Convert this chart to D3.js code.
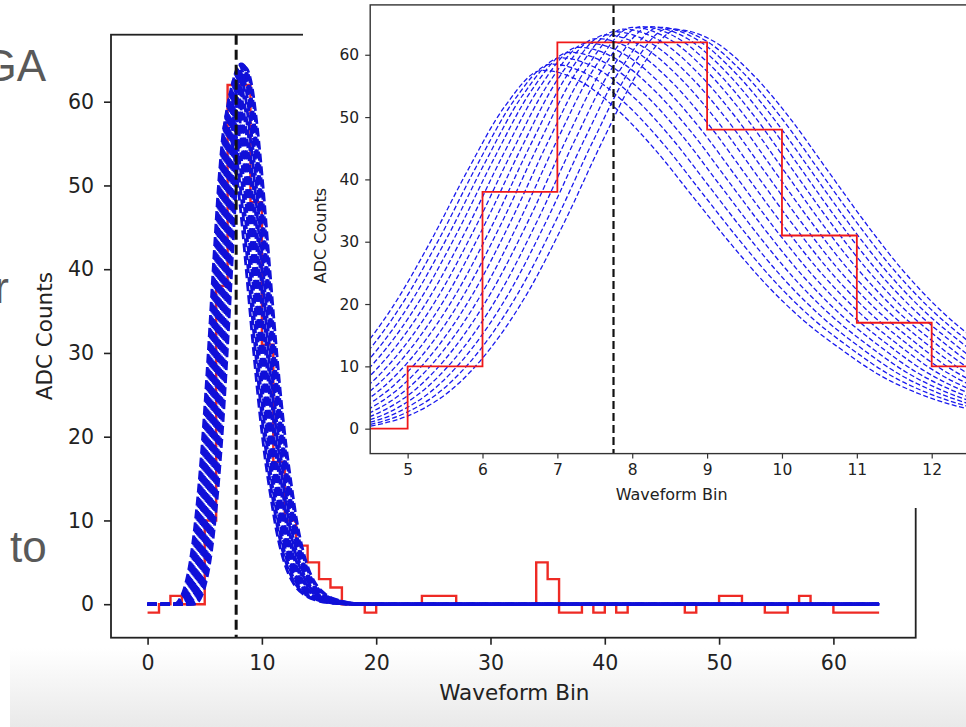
<!DOCTYPE html>
<html>
<head>
<meta charset="utf-8">
<script src="https://cdn.jsdelivr.net/npm/d3@7"></script>
<style>
  body { margin: 0; background: #fff; }
  text { font-family: "DejaVu Sans", sans-serif; }
</style>
</head>
<body>
<div id="chart"></div>
<script>
// Data
// red: measured waveform, one value per bin (0..64)
const adcCounts = [-1, 0, 1, 0, 0, 10, 38, 62, 62, 48,
                   31, 17, 10, 7, 5, 3, 2, 0, 0, -1,
                   0, 0, 0, 0, 1, 1, 1, 0, 0, 0,
                   0, 0, 0, 0, 5, 3, -1, -1, 0, -1,
                   0, -1, 0, 0, 0, 0, 0, -1, 0, 0,
                   1, 1, 0, 0, -1, -1, 0, 1, 0, 0,
                   -1, -1, -1, -1, -1]

// blue: pulse template (offset from peak in bins, fraction of peak)
const templateOffset = [-4.5, -4, -3.5, -3, -2.5, -2, -1.5, -1, -0.5, 0, 0.5, 1, 1.5, 2, 2.5, 3, 3.5, 4, 4.5, 5, 5.5, 6, 7, 8, 9, 10, 11]
const templateShape  = [0, 0.01, 0.04, 0.10, 0.20, 0.34, 0.52, 0.72, 0.90, 1, 0.97, 0.89, 0.78, 0.65, 0.52, 0.40, 0.30, 0.22, 0.15, 0.10, 0.065, 0.042, 0.018, 0.008, 0.003, 0.001, 0]

// the family of fitted pulses: peak position and height of each
const fitPeak = [6.8, 6.92, 7.04, 7.16, 7.28, 7.4, 7.52, 7.64, 7.76, 7.88, 8.0, 8.12, 8.24, 8.36, 8.48, 8.6]
const fitAmp  = [57.5, 58.5, 59.5, 60.4, 61.2, 61.9, 62.6, 63.2, 63.7, 64.1, 64.4, 64.5, 64.5, 64.4, 64.2, 64.0]

const fitTime = 7.75
const waveformRange = [0, 64]

const mainXTicks = [0, 10, 20, 30, 40, 50, 60]
const mainYTicks = [0, 10, 20, 30, 40, 50, 60]
const insetXTicks = [5, 6, 7, 8, 9, 10, 11, 12]
const insetYTicks = [0, 10, 20, 30, 40, 50, 60]

// build curve point lists
const redPoints = adcCounts.map((v, i) => [i, v])
const pulses = fitPeak.map((p, k) => {
    const pts = [[waveformRange[0], 0]]
    templateOffset.forEach((o, j) => pts.push([p + o, fitAmp[k] * templateShape[j]]))
    pts.push([waveformRange[1], 0])
    return pts
})

// Dimensions
const width = 966, height = 727

const svg = d3.select('#chart')
    .append('svg')
    .attr('width', width)
    .attr('height', height)

svg.append('rect').attr('width', width).attr('height', height).attr('fill', '#fff')

// slide background strip at the bottom
const defs = svg.append('defs')
const grad = defs.append('linearGradient')
    .attr('id', 'band').attr('x1', 0).attr('y1', 0).attr('x2', 0).attr('y2', 1)
grad.append('stop').attr('offset', 0).attr('stop-color', '#ffffff')
grad.append('stop').attr('offset', 1).attr('stop-color', '#e9e9e9')
svg.append('rect')
    .attr('x', 10).attr('y', 648).attr('width', width - 10).attr('height', height - 648)
    .attr('fill', 'url(#band)')

// slide text peeking out on the left
const slideText = svg.append('g')
    .style('font-size', '44px')
    .attr('fill', '#595959')
slideText.append('text').attr('x', 46).attr('y', 81).attr('text-anchor', 'end')
    .style('font-family', '"Liberation Sans", Arial, sans-serif').text('GA')
slideText.append('text').attr('x', 9).attr('y', 303).attr('text-anchor', 'end')
    .style('font-family', '"Liberation Sans", Arial, sans-serif').text('r')
slideText.append('text').attr('x', 10).attr('y', 562)
    .style('font-family', '"Liberation Sans", Arial, sans-serif').text('to')

// ---------- main plot ----------
const main = { left: 111, right: 915.7, top: 34.7, bottom: 637.7 }

const xScale = d3.scaleLinear().domain([-3.2, 67.2]).range([main.left, main.right])
const yScale = d3.scaleLinear().domain([-4, 68]).range([main.bottom, main.top])

defs.append('clipPath').attr('id', 'mainClip')
    .append('rect')
    .attr('x', main.left).attr('y', main.top)
    .attr('width', main.right - main.left).attr('height', main.bottom - main.top)

const line = d3.line().x(d => xScale(d[0])).y(d => yScale(d[1]))

const mainPlot = svg.append('g').attr('clip-path', 'url(#mainClip)')

mainPlot.append('path')
    .datum(redPoints)
    .attr('d', line.curve(d3.curveStepAfter))
    .attr('fill', 'none')
    .attr('stroke', '#ee2a24')
    .attr('stroke-width', 2.4)

const pulseLine = d3.line().x(d => xScale(d[0])).y(d => yScale(d[1])).curve(d3.curveMonotoneX)
mainPlot.selectAll('path.pulse')
    .data(pulses)
    .join('path')
    .attr('class', 'pulse')
    .attr('d', pulseLine)
    .attr('fill', 'none')
    .attr('stroke', '#1010d8')
    .attr('stroke-width', 2.8)
    .attr('stroke-dasharray', '9,4')

mainPlot.append('line')
    .attr('x1', xScale(fitTime)).attr('x2', xScale(fitTime))
    .attr('y1', main.top).attr('y2', main.bottom)
    .attr('stroke', '#111')
    .attr('stroke-width', 3)
    .attr('stroke-dasharray', '10,5')

// axes
const xAxis = d3.axisBottom(xScale).tickValues(mainXTicks).tickSize(7).tickSizeOuter(0).tickPadding(11)
const yAxis = d3.axisLeft(yScale).tickValues(mainYTicks).tickSize(7).tickSizeOuter(0).tickPadding(10)

const xAxisGroup = svg.append('g')
    .attr('transform', `translate(0, ${main.bottom})`)
    .call(xAxis)
const yAxisGroup = svg.append('g')
    .attr('transform', `translate(${main.left}, 0)`)
    .call(yAxis)

;[xAxisGroup, yAxisGroup].forEach(g => {
    g.select('.domain').remove()
    g.selectAll('line').attr('stroke', '#222').attr('stroke-width', 1.6)
    g.selectAll('text').attr('fill', '#222').style('font-size', '20.5px')
})

// spines
const spines = svg.append('g').attr('stroke', '#222').attr('stroke-width', 1.8).attr('fill', 'none')
spines.append('rect')
    .attr('x', main.left).attr('y', main.top)
    .attr('width', main.right - main.left).attr('height', main.bottom - main.top)

svg.append('text')
    .text('Waveform Bin')
    .attr('x', (xScale(0) + xScale(64)) / 2 + 1)
    .attr('y', 700)
    .attr('text-anchor', 'middle')
    .attr('fill', '#222')
    .style('font-size', '21.5px')

svg.append('text')
    .text('ADC Counts')
    .attr('transform', `translate(52, ${(main.top + main.bottom) / 2}) rotate(-90)`)
    .attr('text-anchor', 'middle')
    .attr('fill', '#222')
    .style('font-size', '21.5px')

// ---------- inset ----------
const inset = { left: 370.2, right: 1044, top: 4.9, bottom: 453.6 }

svg.append('rect')
    .attr('x', 303).attr('y', 0)
    .attr('width', width - 303).attr('height', 508)
    .attr('fill', '#fff')

const xInset = d3.scaleLinear().domain([4.5, 13.5]).range([inset.left, inset.right])
const yInset = d3.scaleLinear().domain([-4, 68]).range([inset.bottom, inset.top])

defs.append('clipPath').attr('id', 'insetClip')
    .append('rect')
    .attr('x', inset.left).attr('y', inset.top)
    .attr('width', inset.right - inset.left).attr('height', inset.bottom - inset.top)

const insetPlot = svg.append('g').attr('clip-path', 'url(#insetClip)')

const pulseInset = d3.line().x(d => xInset(d[0])).y(d => yInset(d[1])).curve(d3.curveMonotoneX)
insetPlot.selectAll('path.pulse')
    .data(pulses)
    .join('path')
    .attr('class', 'pulse')
    .attr('d', pulseInset)
    .attr('fill', 'none')
    .attr('stroke', '#1a1aee')
    .attr('stroke-width', 1.3)
    .attr('stroke-dasharray', '5,2.5')

insetPlot.append('path')
    .datum(redPoints)
    .attr('d', d3.line().x(d => xInset(d[0])).y(d => yInset(d[1])).curve(d3.curveStepAfter))
    .attr('fill', 'none')
    .attr('stroke', '#f01818')
    .attr('stroke-width', 1.8)

insetPlot.append('line')
    .attr('x1', xInset(fitTime)).attr('x2', xInset(fitTime))
    .attr('y1', inset.top).attr('y2', inset.bottom)
    .attr('stroke', '#111')
    .attr('stroke-width', 2.2)
    .attr('stroke-dasharray', '8,4')

const xAxisInset = d3.axisBottom(xInset).tickValues(insetXTicks).tickSize(5).tickSizeOuter(0).tickPadding(5)
const yAxisInset = d3.axisLeft(yInset).tickValues(insetYTicks).tickSize(5).tickSizeOuter(0).tickPadding(6)

const xInsetGroup = svg.append('g')
    .attr('transform', `translate(0, ${inset.bottom})`)
    .call(xAxisInset)
const yInsetGroup = svg.append('g')
    .attr('transform', `translate(${inset.left}, 0)`)
    .call(yAxisInset)

;[xInsetGroup, yInsetGroup].forEach(g => {
    g.select('.domain').remove()
    g.selectAll('line').attr('stroke', '#333').attr('stroke-width', 1.2)
    g.selectAll('text').attr('fill', '#222').style('font-size', '15.5px')
})

svg.append('rect')
    .attr('x', inset.left).attr('y', inset.top)
    .attr('width', inset.right - inset.left).attr('height', inset.bottom - inset.top)
    .attr('fill', 'none')
    .attr('stroke', '#333')
    .attr('stroke-width', 1.4)

svg.append('text')
    .text('Waveform Bin')
    .attr('x', xInset(8.5) + 2)
    .attr('y', 500)
    .attr('text-anchor', 'middle')
    .attr('fill', '#222')
    .style('font-size', '16px')

svg.append('text')
    .text('ADC Counts')
    .attr('transform', `translate(326, ${yInset(31)}) rotate(-90)`)
    .attr('text-anchor', 'middle')
    .attr('fill', '#222')
    .style('font-size', '16px')
</script>
</body>
</html>
